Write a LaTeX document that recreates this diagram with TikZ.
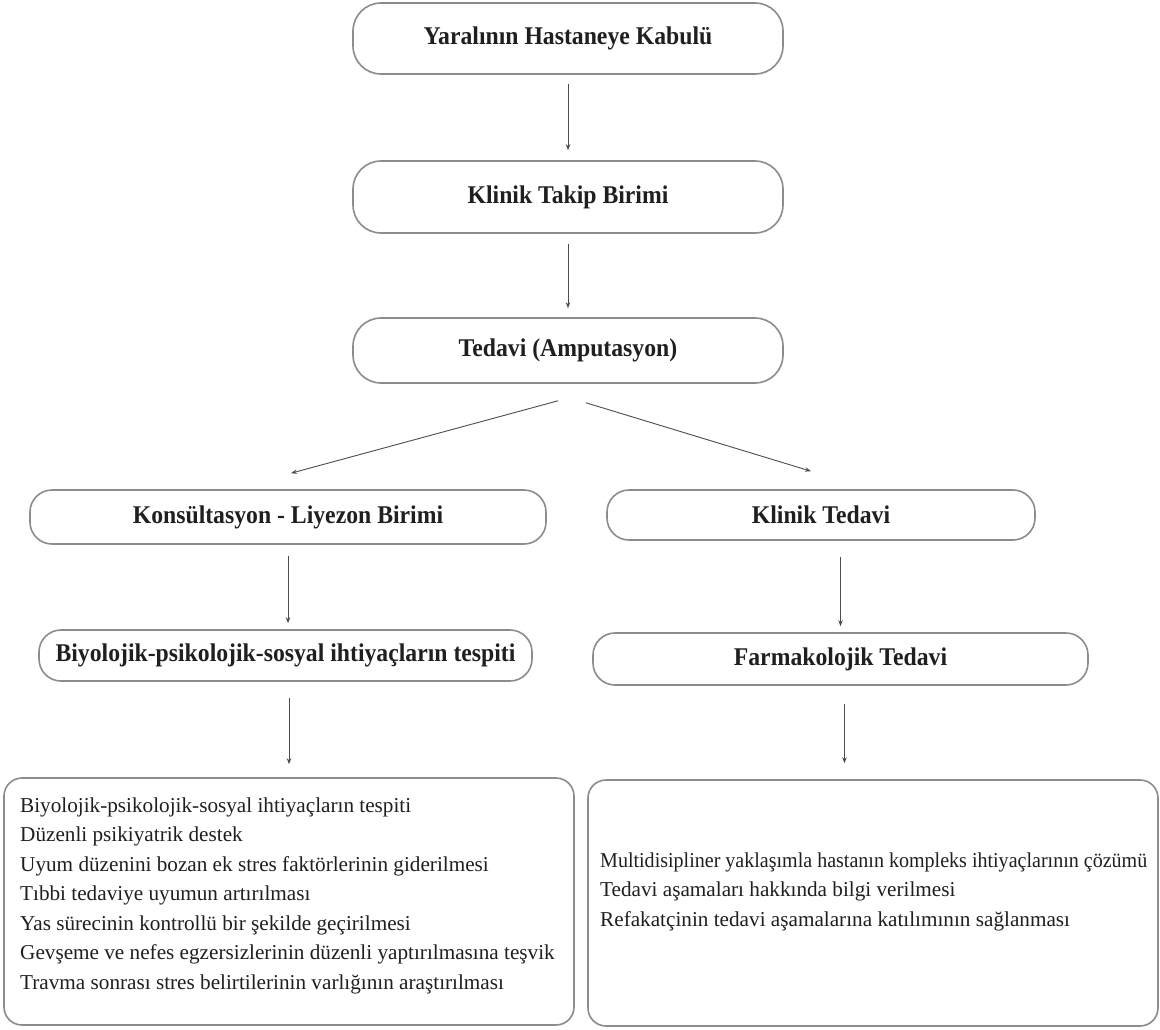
\documentclass[tikz,border=0pt]{standalone}
\usepackage{fontspec}
\usepackage{graphicx}
\setmainfont{Liberation Serif}
\newfontfamily\headfont[FakeStretch=0.93]{Liberation Serif}
\usetikzlibrary{arrows.meta,calc}
\tikzset{
  boxbase/.style={draw=black!45, line width=1.6pt, inner sep=0pt, text=black!88, fill=white},
  headA/.style={boxbase, rounded corners=28pt, font=\headfont\fontsize{25.5}{30}\selectfont\bfseries},
  headB/.style={boxbase, rounded corners=22pt, font=\headfont\fontsize{25.5}{30}\selectfont\bfseries},
  lowbox/.style={boxbase, rounded corners=18pt},
  bodytext/.style={inner sep=0pt, align=left, text=black!88, font=\fontsize{21.2}{29.5}\selectfont},
  arr/.style={draw=black!70, line width=0.9pt, -{Stealth[length=6pt,width=4.5pt]}}
}
\begin{document}
\begin{tikzpicture}[x=1pt,y=-1pt]
\useasboundingbox[fill=white] (0,0) rectangle (1160,1029);

\node[headA, minimum width=430pt, minimum height=71pt] (b1) at (568,38.5) {Yaralının Hastaneye Kabulü};
\node[headA, minimum width=430pt, minimum height=72pt] (b2) at (568,197) {Klinik Takip Birimi};
\node[headA, minimum width=430pt, minimum height=65pt] (b3) at (568,350.5) {Tedavi (Amputasyon)};

\node[headB, minimum width=516pt, minimum height=54pt] (b4l) at (288,517) {Konsültasyon - Liyezon Birimi};
\node[headB, minimum width=428pt, minimum height=50pt] (b4r) at (821,515) {Klinik Tedavi};

\node[headB, minimum width=493pt, minimum height=51pt] (b5l) at (285.5,655.5) {Biyolojik-psikolojik-sosyal ihtiyaçların tespiti};
\node[headB, minimum width=495pt, minimum height=52pt] (b5r) at (840.5,659) {Farmakolojik Tedavi};

\node[lowbox, minimum width=570pt, minimum height=247pt] (lowl) at (289,901.5) {};
\node[lowbox, minimum width=570pt, minimum height=246pt] (lowr) at (873,903) {};

\node[bodytext, anchor=north west] (tl) at (20,797.5) {Biyolojik-psikolojik-sosyal ihtiyaçların tespiti\\
Düzenli psikiyatrik destek\\
Uyum düzenini bozan ek stres faktörlerinin giderilmesi\\
Tıbbi tedaviye uyumun artırılması\\
Yas sürecinin kontrollü bir şekilde geçirilmesi\\
Gevşeme ve nefes egzersizlerinin düzenli yaptırılmasına teşvik\\
Travma sonrası stres belirtilerinin varlığının araştırılması};

\node[bodytext, anchor=north west] (tr) at (600,852.5) {\resizebox{547pt}{\height}{Multidisipliner yaklaşımla hastanın kompleks ihtiyaçlarının çözümü}\\
Tedavi aşamaları hakkında bilgi verilmesi\\
Refakatçinin tedavi aşamalarına katılımının sağlanması};

% connectors
\draw[arr, shorten <=9pt, shorten >=10pt] (b1) -- (b2);
\draw[arr, shorten <=10pt, shorten >=9pt] (b2) -- (b3);
\draw[arr] ($(b3.south)+(-10,17)$) -- ($(b4l.north)+(3,-16)$);
\draw[arr] ($(b3.south)+(18,19)$) -- ($(b4r.north)+(-10,-18)$);
\draw[arr, shorten <=11pt, shorten >=6pt] (b4l.south) -- (b4l.south |- b5l.north);
\draw[arr, shorten <=16pt, shorten >=6pt] (b5r.north |- b4r.south) -- (b5r.north);
\draw[arr, shorten <=16pt, shorten >=13pt] (lowl.north |- b5l.south) -- (lowl.north);
\draw[arr, shorten <=18pt, shorten >=16pt] ($(b5r.south)+(4,0)$) -- ($(b5r.south |- lowr.north)+(4,0)$);
\end{tikzpicture}
\end{document}
